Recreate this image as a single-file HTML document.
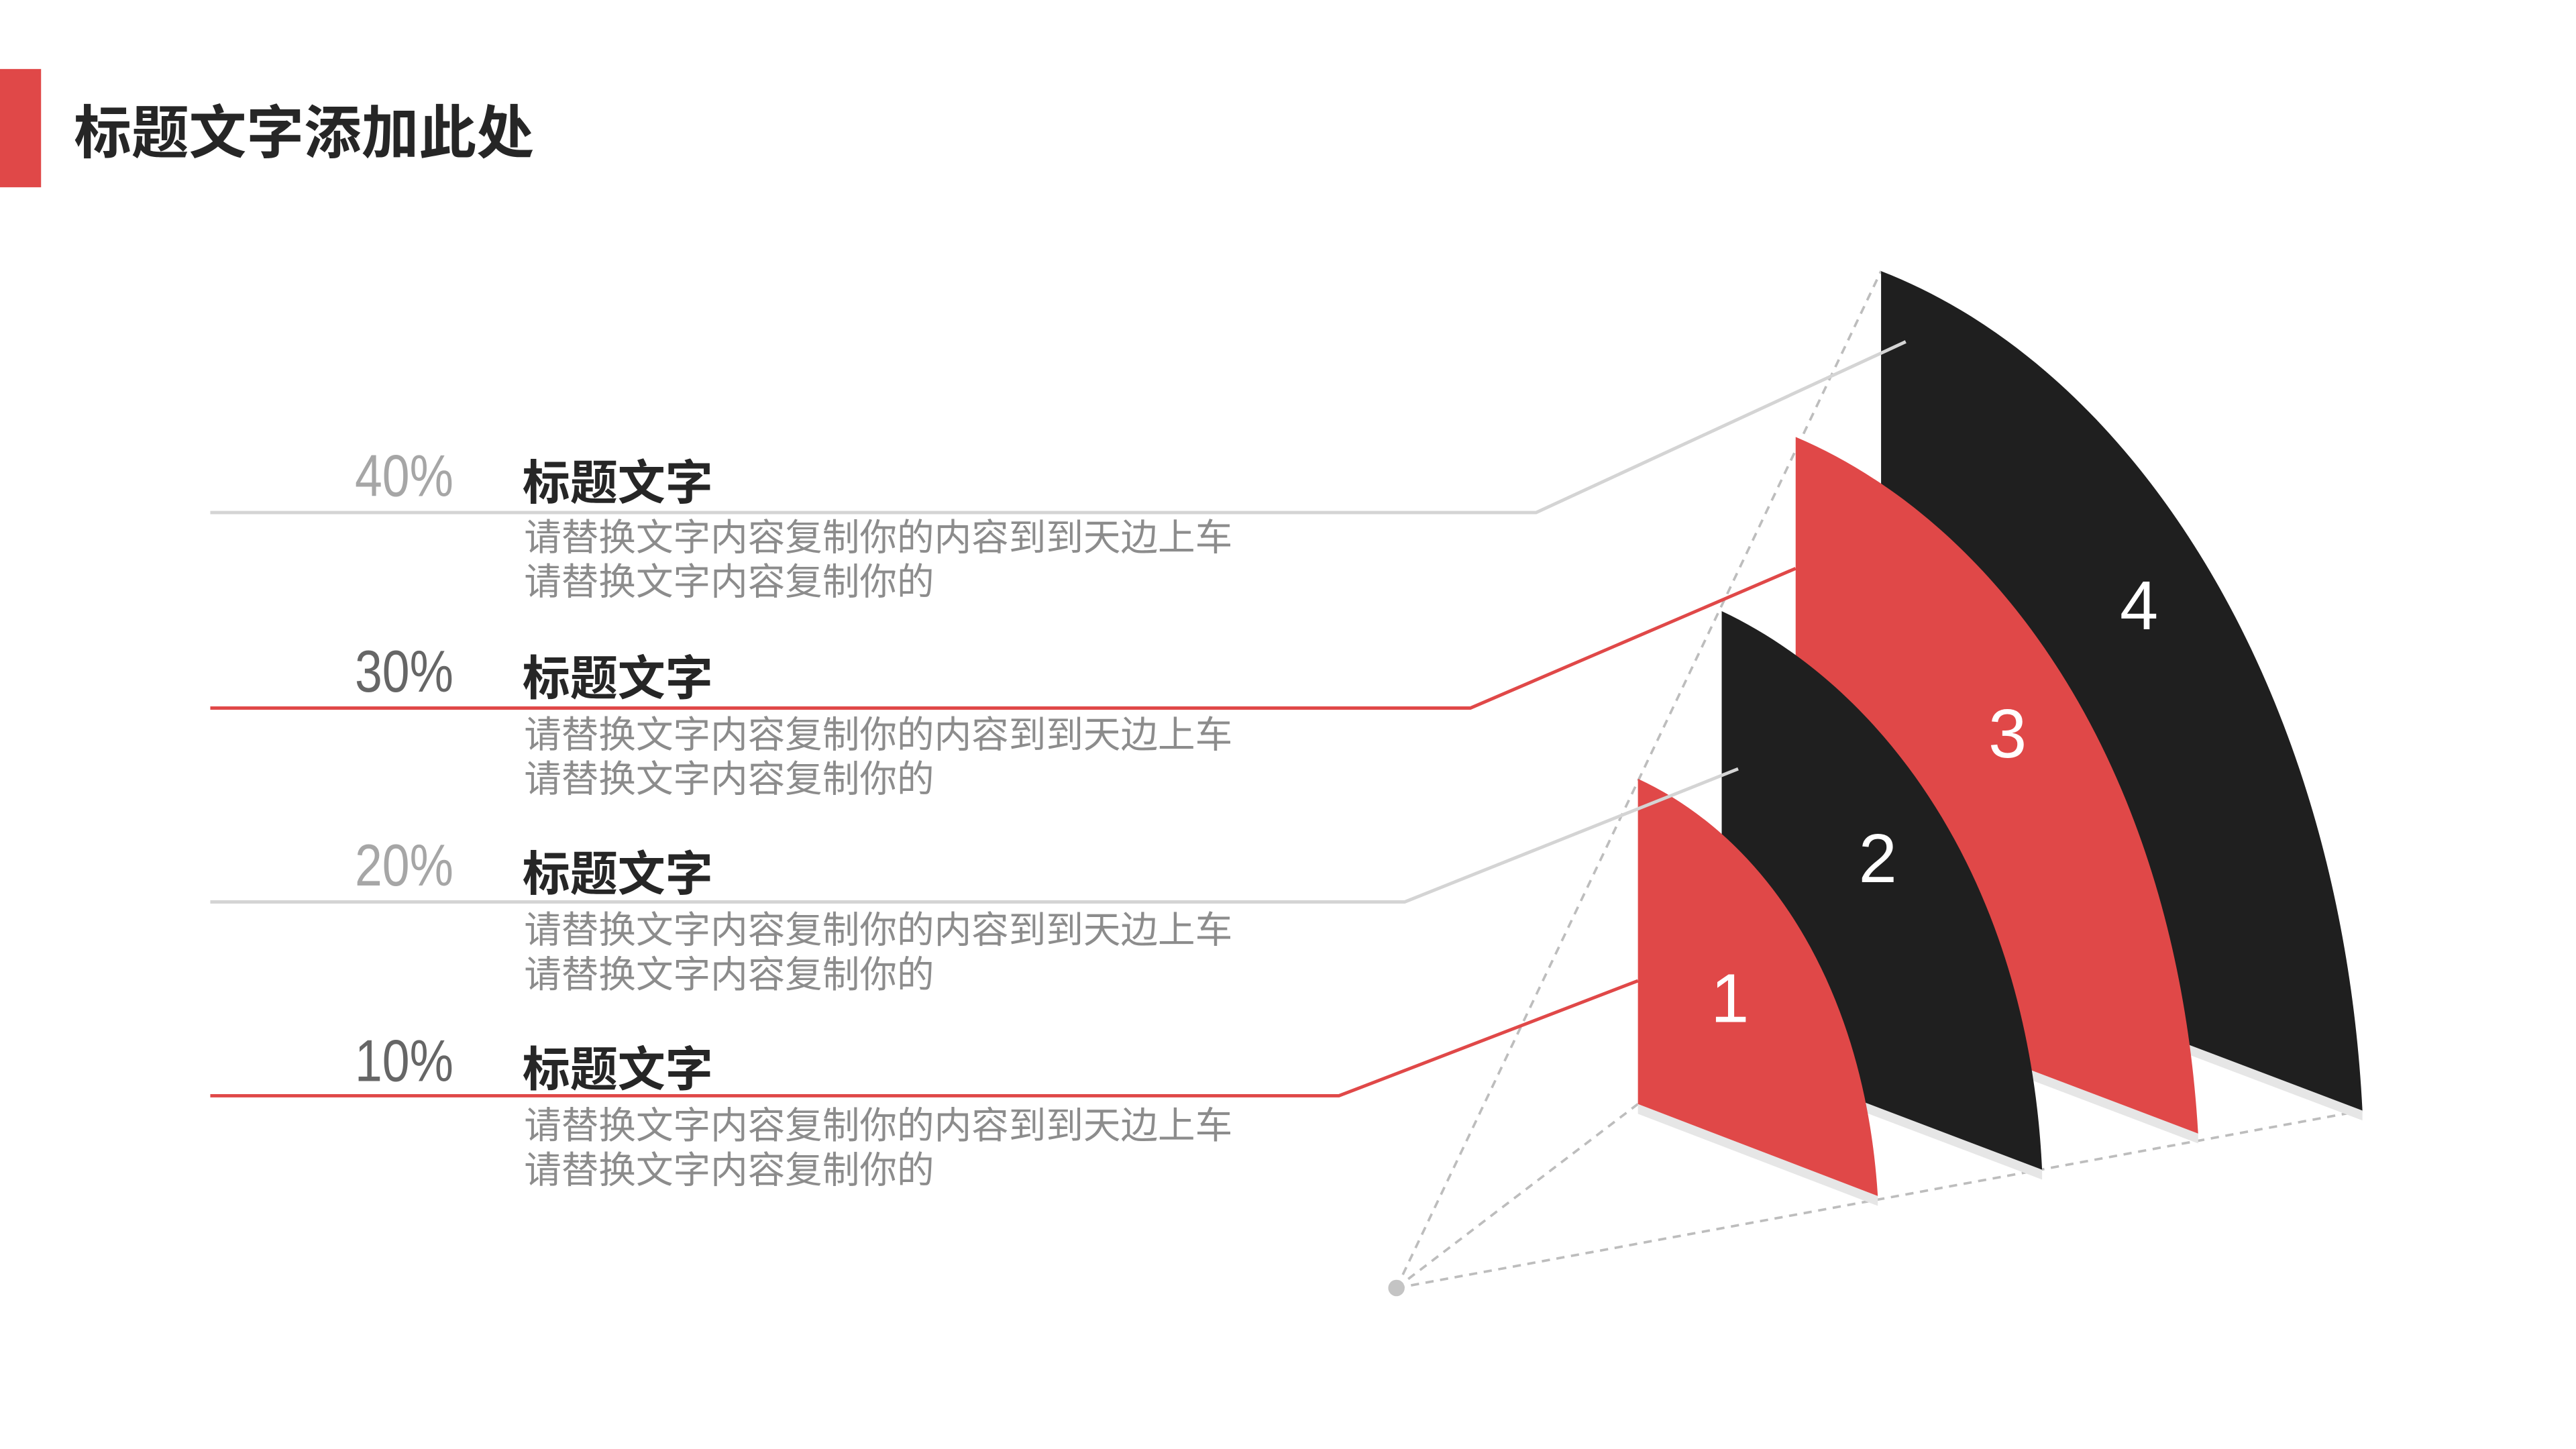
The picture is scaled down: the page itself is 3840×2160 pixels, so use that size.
<!DOCTYPE html>
<html><head><meta charset="utf-8"><style>
html,body{margin:0;padding:0;background:#fff;width:3840px;height:2160px;overflow:hidden}
svg{display:block}
text{font-family:"Liberation Sans","Noto Sans CJK SC",sans-serif}
</style></head><body>
<svg width="3840" height="2160" viewBox="0 0 1568 882" xmlns="http://www.w3.org/2000/svg">
<rect x="0" y="42" width="25" height="72" fill="#e04848"/>
<text x="45" y="93" font-size="35" font-weight="bold" fill="#262626">标题文字添加此处</text>

<g stroke="#bdbdbd" stroke-width="1.5" stroke-dasharray="5,4" fill="none">
<line x1="850" y1="784" x2="1145" y2="165"/>
<line x1="850" y1="784" x2="997" y2="672"/>
<line x1="850" y1="784" x2="1438" y2="676"/>
</g>
<circle cx="850" cy="784" r="5" fill="#c4c4c4"/>

<g>
<path d="M1145,565 L1438,676 L1438,682 L1145,571Z" fill="#e6e6e6"/>
<path d="M1145,165 C1300,225 1425,420 1438,676 L1145,565 Z" fill="#1f1f1f"/>
<path d="M1093,597 L1338,690 L1338,696 L1093,603Z" fill="#e6e6e6"/>
<path d="M1093,266 C1220,320 1325,470 1338,690 L1093,597 Z" fill="#e04848"/>
<path d="M1048,638 L1243,712 L1243,718 L1048,644Z" fill="#e6e6e6"/>
<path d="M1048,372 C1150,420 1235,540 1243,712 L1048,638 Z" fill="#1f1f1f"/>
<path d="M997,672 L1143,728 L1143,734 L997,678Z" fill="#e6e6e6"/>
<path d="M997,474 C1075,510 1135,600 1143,728 L997,672 Z" fill="#e04848"/>
</g>
<g fill="#fff" font-size="42" text-anchor="middle">
<text x="1053" y="622">1</text>
<text x="1143" y="537">2</text>
<text x="1222" y="461">3</text>
<text x="1302" y="383">4</text>
</g>

<polyline points="128,312 935,312 1160,208" fill="none" stroke="#d4d4d4" stroke-width="2"/>
<polyline points="128,431 895,431 1093,346" fill="none" stroke="#e04848" stroke-width="2"/>
<polyline points="128,549 855,549 1058,468" fill="none" stroke="#d4d4d4" stroke-width="2"/>
<polyline points="128,667 815,667 997,597" fill="none" stroke="#e04848" stroke-width="2"/>

<g font-size="36">
<text x="216" y="302" fill="#a6a6a6" textLength="60" lengthAdjust="spacingAndGlyphs">40%</text>
<text x="216" y="421" fill="#666" textLength="60" lengthAdjust="spacingAndGlyphs">30%</text>
<text x="216" y="539" fill="#a6a6a6" textLength="60" lengthAdjust="spacingAndGlyphs">20%</text>
<text x="216" y="658" fill="#666" textLength="60" lengthAdjust="spacingAndGlyphs">10%</text>
</g>
<g font-size="29" font-weight="bold" fill="#262626">
<text x="318" y="304">标题文字</text>
<text x="318" y="423">标题文字</text>
<text x="318" y="542">标题文字</text>
<text x="318" y="661">标题文字</text>
</g>
<g font-size="22.7" fill="#8c8c8c">
<text x="319" y="335">请替换文字内容复制你的内容到到天边上车</text>
<text x="319" y="362">请替换文字内容复制你的</text>
<text x="319" y="455">请替换文字内容复制你的内容到到天边上车</text>
<text x="319" y="482">请替换文字内容复制你的</text>
<text x="319" y="574">请替换文字内容复制你的内容到到天边上车</text>
<text x="319" y="601">请替换文字内容复制你的</text>
<text x="319" y="693">请替换文字内容复制你的内容到到天边上车</text>
<text x="319" y="720">请替换文字内容复制你的</text>
</g>
</svg>
</body></html>
